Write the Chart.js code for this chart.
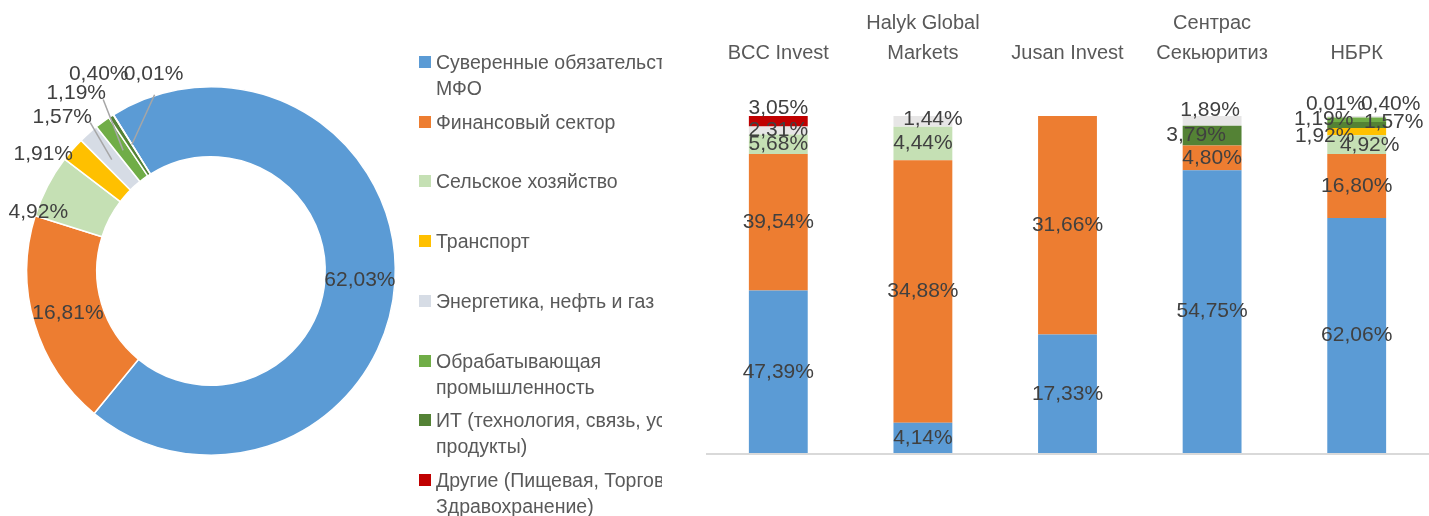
<!DOCTYPE html>
<html>
<head>
<meta charset="utf-8">
<script src="https://cdn.jsdelivr.net/npm/chart.js@4.4.1/dist/chart.umd.min.js"></script>
<style>
  html, body { margin:0; padding:0; background:#fff; width:1429px; height:516px; overflow:hidden;
    font-family:'Liberation Sans', Arial, sans-serif; }
  #pieWrap { position:absolute; left:0; top:0; width:420px; height:516px; }
  #legend { position:absolute; left:418px; top:0; width:244px; height:516px; overflow:hidden; }
  #barWrap { position:absolute; left:662px; top:0; width:767px; height:516px; background:#fff; }
  .lg-item { position:absolute; left:0; white-space:nowrap; color:#595959; font-size:19.5px; line-height:26px; }
  .lg-box { position:absolute; left:1px; top:7px; width:12px; height:12px; }
  .lg-text { position:absolute; left:18px; top:0; }
</style>
</head>
<body>
<div id="pieWrap"><canvas id="pie" width="420" height="516"></canvas></div>
<div id="legend"></div>
<div id="barWrap"><canvas id="bar" width="767" height="516"></canvas></div>
<script>
// ---------- DATA ----------
const sectorLabels = [
  ['Суверенные обязательства и', 'МФО'],
  'Финансовый сектор',
  'Сельское хозяйство',
  'Транспорт',
  'Энергетика, нефть и газ',
  ['Обрабатывающая', 'промышленность'],
  ['ИТ (технология, связь, услуги,', 'продукты)'],
  ['Другие (Пищевая, Торговля,', 'Здравохранение)']
];
const sectorShares = [62.03, 16.81, 4.92, 1.91, 1.57, 1.19, 0.40, 0.01];

const brokers = ['BCC Invest', ['Halyk Global', 'Markets'], 'Jusan Invest', ['Сентрас', 'Секьюритиз'], 'НБРК'];
const barSovereign = [47.39, 4.14, 17.33, 54.75, 62.06];
const barFinancial = [39.54, 34.88, 31.66, 4.80, 16.80];
const barAgri      = [5.68, 4.44, 0, 0, 4.92];
const barTransport = [0, 0, 0, 0, 1.92];
const barIT        = [0, 0, 0, 3.79, 1.57];
const barManuf     = [0, 0, 0, 0, 1.19];
const barEnergy    = [2.31, 1.44, 0, 1.89, 0.40];
const barOther     = [3.05, 0, 0, 0, 0.01];

// ---------- STYLES ----------
const FONT = "'Liberation Sans', Arial, sans-serif";
const pieColors = ['#5B9BD5', '#ED7D31', '#C5E0B4', '#FFC000', '#D6DCE5', '#70AD47', '#548235', '#C00000'];
const barSeries = [
  { name: 'Суверенные обязательства и МФО', data: barSovereign, color: '#5B9BD5' },
  { name: 'Финансовый сектор', data: barFinancial, color: '#ED7D31' },
  { name: 'Сельское хозяйство', data: barAgri, color: '#C5E0B4' },
  { name: 'Транспорт', data: barTransport, color: '#FFC000' },
  { name: 'ИТ', data: barIT, color: '#548235' },
  { name: 'Обрабатывающая промышленность', data: barManuf, color: '#70AD47' },
  { name: 'Энергетика, нефть и газ', data: barEnergy, color: '#E7E6E6' },
  { name: 'Другие', data: barOther, color: '#C00000' }
];
// label placement for outside doughnut labels: angle (deg clockwise from top), radius factor
const pieLabelPlace = [null, null, {a:288.8, r:0.99}, {a:304.9, r:1.11}, {a:315.9, r:1.16}, {a:322.8, r:1.21}, {a:330.3, r:1.23}, {a:343.7, r:1.11}];
const pieLeaderStart = [null, null, null, null, [28, 5], [27, 6], null, [1, 20]];
// bar label nudges: [seriesIndex, categoryIndex, dx, dy]
const barLabelShift = [
  [7, 0, 0, -13],
  [6, 1, 10, -2],
  [6, 3, -2, -11],
  [4, 3, -16, 0],
  [2, 4, 13, 0],
  [3, 4, -32, 4],
  [4, 4, 37, -3],
  [5, 4, -33, -1],
  [6, 4, 34, -13],
  [7, 4, -21, -12]
];

const fmt = v => v.toFixed(2).replace('.', ',') + '%';

// ---------- DOUGHNUT ----------
const pieLabelPlugin = {
  id: 'pieLabels',
  afterDatasetsDraw(chart) {
    const ctx = chart.ctx;
    const meta = chart.getDatasetMeta(0);
    const vals = chart.data.datasets[0].data;
    ctx.save();
    ctx.font = '21px ' + FONT;
    ctx.textAlign = 'center';
    ctx.textBaseline = 'middle';
    meta.data.forEach((arc, i) => {
      const p = arc.getProps(['x', 'y', 'outerRadius'], true);
      let lx, ly;
      const place = pieLabelPlace[i];
      if (place) {
        const ang = (place.a - 90) * Math.PI / 180;
        lx = p.x + place.r * p.outerRadius * Math.cos(ang);
        ly = p.y + place.r * p.outerRadius * Math.sin(ang);
      } else {
        const tp = arc.tooltipPosition(true);
        lx = tp.x; ly = tp.y;
      }
      const ls = pieLeaderStart[i];
      if (ls) {
        const tp = arc.tooltipPosition(true);
        ctx.strokeStyle = '#A6A6A6';
        ctx.lineWidth = 1.5;
        ctx.beginPath();
        ctx.moveTo(lx + ls[0], ly + ls[1]);
        ctx.lineTo(tp.x, tp.y);
        ctx.stroke();
      }
      ctx.fillStyle = '#404040';
      ctx.fillText(fmt(vals[i]), lx, ly);
    });
    ctx.restore();
  }
};

const pie = new Chart(document.getElementById('pie'), {
  type: 'doughnut',
  data: {
    labels: sectorLabels,
    datasets: [{ data: sectorShares, backgroundColor: pieColors, borderColor: '#ffffff', borderWidth: 1.5 }]
  },
  options: {
    responsive: false,
    animation: false,
    rotation: -32,
    cutout: '62%',
    layout: { padding: { left: 26, right: 24, top: 86, bottom: 60 } },
    plugins: { legend: { display: false }, tooltip: { enabled: false } }
  },
  plugins: [pieLabelPlugin]
});

// HTML legend from the chart's own legend items
(function buildLegend() {
  const items = Chart.overrides.doughnut.plugins.legend.labels.generateLabels(pie);
  const box = document.getElementById('legend');
  items.forEach((it, i) => {
    const lines = Array.isArray(it.text) ? it.text : [it.text];
    const d = document.createElement('div');
    d.className = 'lg-item';
    d.style.top = (49 + i * 59.7) + 'px';
    const sq = document.createElement('div');
    sq.className = 'lg-box';
    sq.style.background = it.fillStyle;
    const tx = document.createElement('div');
    tx.className = 'lg-text';
    lines.forEach((ln, k) => {
      if (k) tx.appendChild(document.createElement('br'));
      tx.appendChild(document.createTextNode(ln));
    });
    d.appendChild(sq); d.appendChild(tx);
    box.appendChild(d);
  });
})();

// ---------- STACKED 100% BARS ----------
const totals = brokers.map((_, c) => barSeries.reduce((s, ser) => s + ser.data[c], 0));

const barLabelPlugin = {
  id: 'barLabels',
  afterDatasetsDraw(chart) {
    const ctx = chart.ctx;
    ctx.save();
    ctx.font = '21px ' + FONT;
    ctx.textAlign = 'center';
    ctx.textBaseline = 'middle';
    ctx.fillStyle = '#404040';
    chart.data.datasets.forEach((ds, d) => {
      const meta = chart.getDatasetMeta(d);
      meta.data.forEach((el, c) => {
        const raw = ds.rawValues[c];
        if (!raw) return;
        const p = el.getProps(['x', 'y', 'base'], true);
        let x = p.x, y = (p.y + p.base) / 2;
        const sh = barLabelShift.find(s => s[0] === d && s[1] === c);
        if (sh) { x += sh[2]; y += sh[3]; }
        ctx.fillText(fmt(raw), x, y);
      });
    });
    ctx.restore();
  }
};

new Chart(document.getElementById('bar'), {
  type: 'bar',
  data: {
    labels: brokers,
    datasets: barSeries.map(s => ({
      label: s.name,
      rawValues: s.data,
      data: s.data.map((v, c) => v / totals[c] * 100),
      backgroundColor: s.color,
      borderWidth: 0,
      barPercentage: 0.407,
      categoryPercentage: 1
    }))
  },
  options: {
    responsive: false,
    animation: false,
    layout: { padding: { left: 44, right: 0, top: 8, bottom: 62 } },
    plugins: { legend: { display: false }, tooltip: { enabled: false } },
    scales: {
      x: {
        position: 'top',
        stacked: true,
        grid: { display: true, drawOnChartArea: false, drawTicks: true, tickLength: 48, color: 'rgba(0,0,0,0)' },
        border: { display: false },
        ticks: { padding: 0, color: '#595959', maxRotation: 0, autoSkip: false,
                 font: { family: FONT, size: 20, lineHeight: 1.5 } }
      },
      y: {
        stacked: true,
        min: 0, max: 100,
        ticks: { display: false },
        grid: { drawTicks: false, lineWidth: 2,
                color: c => (c.tick && c.tick.value === 0) ? '#D9D9D9' : 'rgba(0,0,0,0)' },
        border: { display: false }
      }
    }
  },
  plugins: [barLabelPlugin]
});
</script>
</body>
</html>
